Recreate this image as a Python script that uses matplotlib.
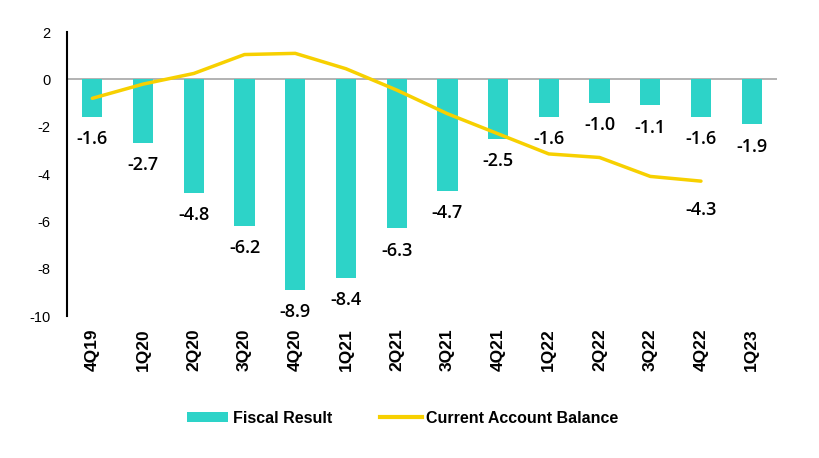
import numpy as np
import matplotlib.pyplot as plt
from matplotlib.lines import Line2D
from matplotlib.patches import Patch

plt.rcParams['axes.unicode_minus'] = False

quarters = ['4Q19', '1Q20', '2Q20', '3Q20', '4Q20', '1Q21', '2Q21',
            '3Q21', '4Q21', '1Q22', '2Q22', '3Q22', '4Q22', '1Q23']
fiscal = [-1.6, -2.7, -4.8, -6.2, -8.9, -8.4, -6.3,
          -4.7, -2.5, -1.6, -1.0, -1.1, -1.6, -1.9]
# current account stops at 4Q22
current = [-0.8, -0.2, 0.25, 1.05, 1.1, 0.45, -0.45,
           -1.45, -2.3, -3.15, -3.3, -4.1, -4.3]

bar_color = '#2DD3C8'
line_color = '#F7D000'

fig = plt.figure(figsize=(8.2, 4.58), dpi=100)
ax = fig.add_axes([0.0817, 0.31, 0.8659, 0.62])

x = np.arange(len(quarters))
ax.bar(x, fiscal, width=0.4, color=bar_color, zorder=2)
xc = np.arange(len(current))
ax.plot(xc, current, color=line_color, linewidth=2.5, zorder=3,
        solid_capstyle='round')

ax.axhline(0, color='#A6A6A6', linewidth=1.2, zorder=1)

for i, v in enumerate(fiscal):
    ax.annotate(f'{v:.1f}', (i, v), xytext=(0, -16), textcoords='offset points',
                ha='center', va='center', fontsize=13, family='Open Sans',
                fontweight='semibold')
ax.annotate(f'{current[-1]:.1f}', (xc[-1], current[-1]), xytext=(0, -21),
            textcoords='offset points', ha='center', va='center',
            fontsize=13, family='Open Sans', fontweight='semibold')

ax.set_xlim(-0.5, len(quarters) - 0.5)
ax.set_ylim(-10, 2)
ax.set_yticks([2, 0, -2, -4, -6, -8, -10])
ax.set_xticks(x)
ax.set_xticklabels(quarters, rotation=90, fontsize=12.5, fontweight='bold',
                   family='Liberation Sans')
for lab in ax.get_yticklabels():
    lab.set_family('Liberation Sans')
    lab.set_fontsize(10.5)
ax.tick_params(axis='both', length=0)
ax.tick_params(axis='y', pad=12)
ax.tick_params(axis='x', pad=9)

for s in ['top', 'right', 'bottom']:
    ax.spines[s].set_visible(False)
ax.spines['left'].set_linewidth(1.5)
ax.spines['left'].set_color('black')

handles = [Patch(facecolor=bar_color, label='Fiscal Result'),
           Line2D([0], [0], color=line_color, linewidth=3, label='Current Account Balance')]
fig.legend(handles=handles, loc='center', bbox_to_anchor=(0.491, 0.087), ncol=2,
           frameon=False, prop={'family': 'Liberation Sans', 'size': 11.5, 'weight': 'bold'},
           handlelength=2.6, handleheight=0.55, columnspacing=3.0, handletextpad=0.3)

fig.savefig('out.png', dpi=100)
